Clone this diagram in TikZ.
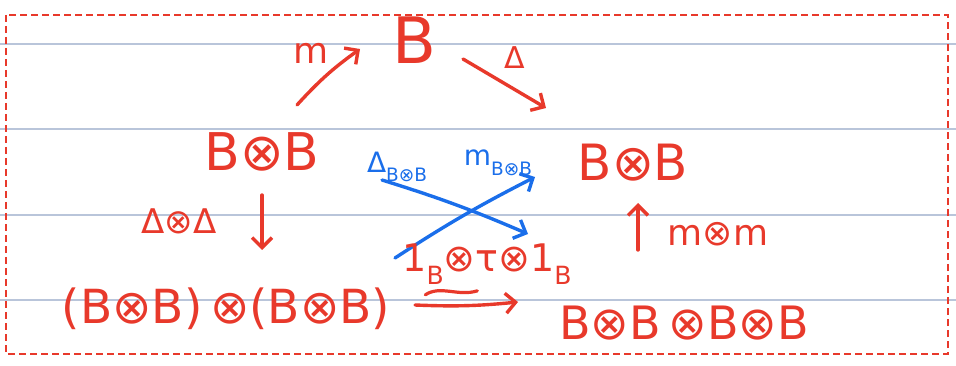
\documentclass[tikz,border=0pt]{standalone}
\usepackage{fontspec}
\setmainfont{DejaVu Sans}
\usetikzlibrary{arrows.meta}
\definecolor{ink}{HTML}{E8392B}
\definecolor{blueink}{HTML}{1A6EEA}
\definecolor{ruleline}{HTML}{B9C5DA}
% lowered, shrunk index (subscript in text font)
\newcommand\lowsub[1]{\raisebox{-0.35em}{\scalebox{0.66}{#1}}}
\newcommand\fsz[1]{\fontsize{#1}{#1}\selectfont}

\begin{document}
\begin{tikzpicture}[x=1pt,y=-1pt,
  obj/.style={text=ink, inner sep=0pt},
  lbl/.style={text=ink, inner sep=0pt},
  blbl/.style={text=blueink, inner sep=0pt},
  arr/.style={draw=ink, line width=3.4pt, line cap=round, line join=round,
    -{Straight Barb[length=10pt,width=20pt]}},
  barr/.style={arr, draw=blueink},
]
\useasboundingbox (0,0) rectangle (956,366);
% ruled paper
\foreach \yy in {44,129,215,300}
  \draw[ruleline, line width=1.3pt] (0,\yy) -- (956,\yy);
% dashed frame
\draw[ink, line width=2.6pt, dash pattern=on 7pt off 4pt] (6,15) rectangle (948,354);

% objects
\node[obj, font=\fsz{64}] (top) at (414,40) {B};
\node[obj, font=\fsz{52}] (L)   at (262,152) {B⊗B};
\node[obj, font=\fsz{50}] (R)   at (633,163) {B⊗B};
\node[obj, font=\fsz{47}] (BL)  at (226,309) {(B⊗B)\,⊗(B⊗B)};
\node[obj, font=\fsz{46}] (BR)  at (684,323) {B⊗B\,⊗B⊗B};

% red arrows
\draw[arr] ([shift={(35,-47)}]L.center) to[bend left=6] ([shift={(-54,9)}]top.center);
\draw[arr] ([shift={(49,19)}]top.center) -- ([shift={(-87,-55)}]R.center);
\draw[arr] ([shift={(0,43)}]L.center) -- ([shift={(36,-59)}]BL.center);
\draw[arr] ([shift={(-46,-73)}]BR.center) -- ([shift={(5,40)}]R.center);
\draw[arr] ([shift={(189,-4)}]BL.center) to[bend right=4] coordinate[pos=0.35] (tl)
  ([shift={(-166,-21)}]BR.center);
\draw[ink, line width=3.2pt, line cap=round]
  ([shift={(-27,-11)}]tl) .. controls ([shift={(-12,-21)}]tl) and ([shift={(6,-9)}]tl)
  .. ([shift={(25,-15)}]tl);

% blue arrows
\draw[barr] ([shift={(120,28)}]L.center) to[bend left=3] ([shift={(-156,-89)}]BR.center);
\draw[barr] ([shift={(169,-51)}]BL.center) to[bend left=3] ([shift={(-98,14)}]R.center);

% labels
\node[lbl, font=\fsz{36}] (lm) at (311,53) {m};
\node[lbl, font=\fsz{30}] (ld) at (515,58) {Δ};
\node[lbl, font=\fsz{34}] (ldd) at (179,221) {Δ⊗Δ};
\node[lbl, font=\fsz{36}] (lmm) at (718,234) {m⊗m};
\node[lbl, font=\fsz{38}] (ltau) at (487,264) {1\lowsub{B}⊗τ⊗1\lowsub{B}};
\node[blbl, font=\fsz{28}] (bd) at (397,167) {Δ\lowsub{B⊗B}};
\node[blbl, font=\fsz{28}] (bm) at (498,163) {m\lowsub{B⊗B}};
\end{tikzpicture}
\end{document}
